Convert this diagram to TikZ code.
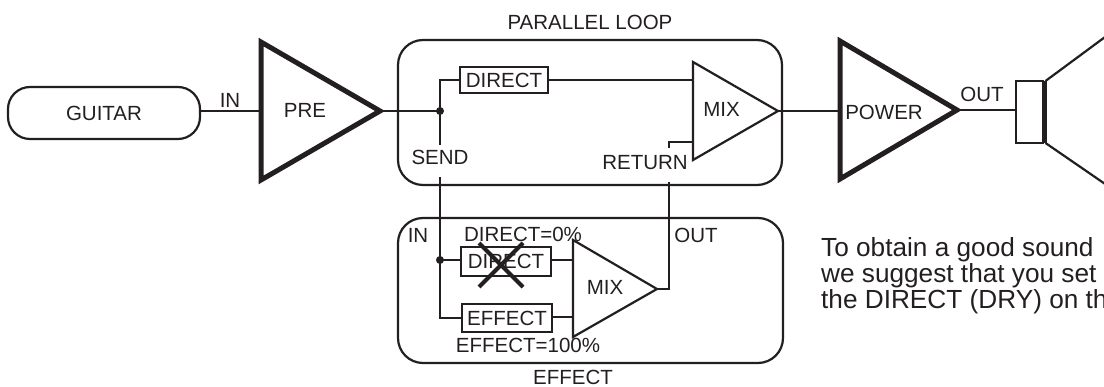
\documentclass[tikz,border=0pt]{standalone}
\usepackage{fontspec}
\setmainfont{Liberation Sans}
\definecolor{ink}{RGB}{35,31,32}
\begin{document}
\begin{tikzpicture}[x=1pt,y=-1pt]
\tikzset{
 wire/.style={draw=ink, line width=2.2pt},
 ampthick/.style={draw=ink, line width=5pt, line join=miter},
 ampthin/.style={draw=ink, line width=2.2pt, line join=miter},
 lbl/.style={text=ink, inner sep=0pt, font=\fontsize{20.5}{24}\selectfont},
 blk/.style={draw=ink, line width=2.2pt, inner sep=0pt, text=ink, font=\fontsize{20.5}{24}\selectfont},
 roundbox/.style={draw=ink, line width=2.2pt, rounded corners=25pt, inner sep=0pt},
 jdot/.style={circle, fill=ink, inner sep=0pt, minimum size=8pt},
 para/.style={text=ink, inner sep=0pt, anchor=base west, font=\fontsize{26.2}{26}\selectfont},
}
\useasboundingbox (0,0) rectangle (1104,387);
\clip (0,0) rectangle (1104,387);

% GUITAR
\node[blk, rounded corners=22pt, minimum width=192pt, minimum height=52pt] (guitar) at (104,113) {GUITAR};
\node[lbl] (inlbl) at (230,100) {IN};

% PRE amp
\coordinate (preIn) at (261,111);
\coordinate (preOut) at (380,111);
\draw[ampthick] (261,42) -- (261,180) -- (preOut) -- cycle;
\node[lbl] (pre) at (305,110) {PRE};
\draw[wire] (guitar.east |- preIn) -- (preIn);

% PARALLEL LOOP box
\node[roundbox, minimum width=384pt, minimum height=145pt] (loop) at (590,112.5) {};
\node[lbl] (looplbl) at (590,22) {PARALLEL LOOP};

\node[jdot] (j1) at (440,111) {};
\draw[wire] (preOut) -- (j1.center);

\node[blk, minimum width=88pt, minimum height=26pt] (dirA) at (504,80) {DIRECT};
\draw[wire] (j1.center) |- (dirA.west);

% MIX amp (loop)
\coordinate (mixAin) at (693,80);
\coordinate (mixAret) at (693,142);
\coordinate (mixAout) at (778,111);
\draw[ampthin] (693,62) -- (693,160) -- (mixAout) -- cycle;
\node[lbl] (mixA) at (721.5,109) {MIX};
\draw[wire] (dirA.east) -- (mixAin);

% SEND / RETURN labels
\node[lbl] (send) at (440,157.5) {SEND};
\node[lbl] (ret) at (645,162.5) {RETURN};
\coordinate (retTop) at (669,148);
\draw[wire] (j1.center) -- (send.north |- 0,145);
\draw[wire] (retTop) |- (mixAret);

% POWER amp
\coordinate (powIn) at (840,111);
\coordinate (powOut) at (957,110);
\draw[ampthick] (840,41) -- (840,179) -- (powOut) -- cycle;
\node[lbl] (power) at (884,112) {POWER};
\draw[wire] (mixAout) -- (powIn);
\node[lbl] (outlbl) at (982,94.5) {OUT};

% Speaker
\node[draw=ink, line width=2.2pt, minimum width=27pt, minimum height=62pt, inner sep=0pt] (spk) at (1029.5,112) {};
\draw[wire] (powOut) -- (powOut -| spk.west);
\coordinate (coneT) at (1045.5,81);
\coordinate (coneB) at (1045.5,143);
\draw[wire] (coneT) -- (coneB);
\draw[wire] (coneT) -- (1124,23);
\draw[wire] (coneB) -- (1124,197);

% EFFECT box
\node[roundbox, minimum width=385pt, minimum height=145pt] (fx) at (590.5,290.5) {};
\node[lbl] (fxlbl) at (573,377.5) {EFFECT};
\node[lbl] (fxin) at (418,235) {IN};
\node[lbl] (fxout) at (696,235) {OUT};

\node[jdot] (j2) at (440,260) {};
\node[blk, minimum width=90pt, minimum height=29pt] (dirB) at (506,261.5) {DIRECT};
\node[blk, minimum width=90pt, minimum height=28pt] (eff) at (507,318) {EFFECT};
\draw[wire] (send.south |- 0,177) -- (j2.center);
\draw[wire] (j2.center) |- (eff.west);
\draw[wire] (j2.center) -- (dirB.west |- j2.center);

% MIX amp (effect)
\coordinate (mixBin1) at (573,260);
\coordinate (mixBin2) at (573,317);
\coordinate (mixBout) at (657,289);
\draw[ampthin] (573,240) -- (573,337) -- (mixBout) -- cycle;
\node[lbl] (mixB) at (605,287) {MIX};
\draw[wire] (dirB.east |- mixBin1) -- (mixBin1);
\draw[wire] (eff.east |- mixBin2) -- (mixBin2);
\draw[wire] (mixBout) -| (669,182);

% labels and cross
\node[lbl] (d0) at (523,234.5) {DIRECT=0\%};
\node[lbl] (e100) at (528,345.5) {EFFECT=100\%};
\draw[draw=ink, line width=4pt] (479,243) -- (523,287);
\draw[draw=ink, line width=4pt] (479,287) -- (523,243);

% paragraph
\node[para] (p1) at (821,257) {To obtain a good sound};
\node[para] (p2) at (821,283) {we suggest that you set};
\node[para] (p3) at (821,309) {the DIRECT (DRY) on th};
\end{tikzpicture}
\end{document}
